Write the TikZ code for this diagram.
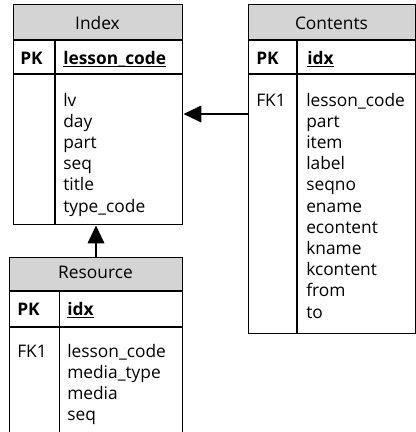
\documentclass[tikz,border=0pt]{standalone}
\usepackage{fontspec}
\setmainfont{Open Sans}
\usetikzlibrary{arrows.meta}

\definecolor{hdrgray}{RGB}{212,212,212}

\begin{document}
\begin{tikzpicture}[x=0.75pt,y=-0.75pt,
  frame/.style={draw, line width=1.1pt, inner sep=0pt, anchor=north west},
  rule/.style={line width=1.1pt},
  hdr/.style={fill=hdrgray},
  txt/.style={inner sep=0pt, anchor=base west, font=\fontsize{13}{15}\selectfont},
  keytxt/.style={inner sep=0pt, anchor=base west, font=\fontsize{13}{15}\selectfont\bfseries},
  ttl/.style={inner sep=0pt, anchor=base, font=\fontsize{13}{15}\selectfont},
  uline/.style={line width=0.9pt},
  conn/.style={line width=1.4pt, -{Triangle[length=13.5pt,width=12.5pt]}}
]
\useasboundingbox (0,0) rectangle (416,432);
\clip (0,0) rectangle (416,432);

% ---------- Index ----------
\fill[hdr] (13,4) rectangle (182,40);
\node[frame, minimum width=126.75pt, minimum height=165pt] (idx) at (13,4) {};
\draw[rule] (13,40) -- (182,40);
\draw[rule] (13,74) -- (182,74);
\draw[rule] (55,40) -- (55,224);
\node[ttl] (idx-title) at (97.5,29) {Index};
\node[keytxt] (idx-pk) at (20,64) {PK};
\node[keytxt] (idx-key) at (63,64) {lesson\_code};
\draw[uline] ([yshift=-1.8pt]idx-key.base west) -- ([yshift=-1.8pt]idx-key.base east);
\foreach \f [count=\n] in {lv,day,part,seq,title,type\_code}
  \node[txt] (idx-f\n) at (63,{106+21.2*(\n-1)}) {\f};

% ---------- Contents ----------
\fill[hdr] (248,4) rectangle (415,40);
\node[frame, minimum width=125.25pt, minimum height=246.75pt] (cont) at (248,4) {};
\draw[rule] (248,40) -- (415,40);
\draw[rule] (248,74) -- (415,74);
\draw[rule] (297,40) -- (297,333);
\node[ttl] (cont-title) at (331.5,29) {Contents};
\node[keytxt] (cont-pk) at (256,64) {PK};
\node[keytxt] (cont-key) at (307,64) {idx};
\draw[uline] ([yshift=-1.8pt]cont-key.base west) -- ([yshift=-1.8pt]cont-key.base east);
\node[txt] (cont-fk) at (256,106) {FK1};
\foreach \f [count=\n] in {lesson\_code,part,item,label,seqno,ename,econtent,kname,kcontent,from,to}
  \node[txt] (cont-f\n) at (306,{106+21.2*(\n-1)}) {\f};

% ---------- Resource ----------
\fill[hdr] (9,257) rectangle (182,291);
\node[frame, minimum width=129.75pt, minimum height=141pt] (res) at (9,257) {};
\draw[rule] (9,291) -- (182,291);
\draw[rule] (9,327) -- (182,327);
\draw[rule] (59.5,291) -- (59.5,445);
\node[ttl] (res-title) at (95.5,278) {Resource};
\node[keytxt] (res-pk) at (17,315) {PK};
\node[keytxt] (res-key) at (67,315) {idx};
\draw[uline] ([yshift=-1.8pt]res-key.base west) -- ([yshift=-1.8pt]res-key.base east);
\node[txt] (res-fk) at (17,357) {FK1};
\foreach \f [count=\n] in {lesson\_code,media\_type,media,seq}
  \node[txt] (res-f\n) at (67,{357+21.2*(\n-1)}) {\f};

% ---------- Relationships ----------
\draw[conn] (cont.west |- 0,114) -- (idx.east |- 0,114);
\draw[conn] (res.north -| 96,0) -- (idx.south -| 96,0);
\end{tikzpicture}
\end{document}
